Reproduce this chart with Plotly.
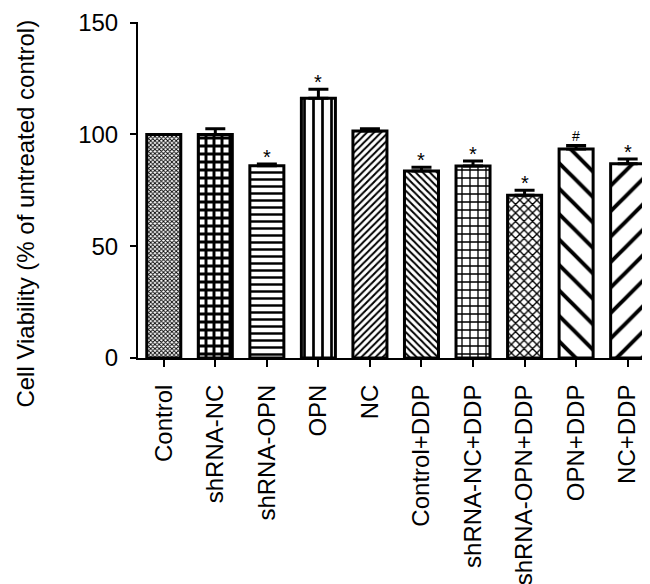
import plotly.graph_objects as go

groups = [
    "Control",
    "shRNA-NC",
    "shRNA-OPN",
    "OPN",
    "NC",
    "Control+DDP",
    "shRNA-NC+DDP",
    "shRNA-OPN+DDP",
    "OPN+DDP",
    "NC+DDP",
]
viability = [100, 100, 86, 116.2, 101.5, 83.7, 85.9, 72.8, 93.5, 86.9]
errors = [0, 2.5, 0.8, 4.0, 1.1, 1.6, 2.2, 2.2, 1.5, 2.1]
marks = ["", "", "*", "*", "", "*", "*", "*", "#", "*"]

# one hatch per bar, roughly like the Prism fills
patterns = [
    dict(shape="x", size=3, solidity=0.5),
    dict(shape="+", size=8, solidity=0.6),
    dict(shape="-", size=7, solidity=0.35),
    dict(shape="|", size=9, solidity=0.3),
    dict(shape="/", size=5, solidity=0.4),
    dict(shape="\\", size=5, solidity=0.4),
    dict(shape="+", size=8, solidity=0.3),
    dict(shape="x", size=6, solidity=0.4),
    dict(shape="\\", size=18, solidity=0.22),
    dict(shape="/", size=18, solidity=0.22),
]

FONT = "Liberation Sans, Arial, Helvetica, sans-serif"


def plot_viability() -> go.Figure:
    """Bar chart of cell viability with upper-only error bars."""
    fig = go.Figure()
    for i, name in enumerate(groups):
        fig.add_bar(
            x=[name],
            y=[viability[i]],
            width=0.66,
            marker_color="white",
            marker_line_color="black",
            marker_line_width=3,
            marker_pattern=dict(
                fgcolor="black", bgcolor="white", fgopacity=1, **patterns[i]
            ),
            error_y=dict(
                type="data",
                symmetric=False,
                array=[errors[i]],
                arrayminus=[0],
                color="black",
                thickness=3,
                width=10,
            ),
            showlegend=False,
        )
        if marks[i]:
            fig.add_annotation(
                x=name,
                y=viability[i] + errors[i],
                text=marks[i],
                showarrow=False,
                yanchor="bottom",
                yshift=-6 if marks[i] == "*" else 0,
                font=dict(size=20 if marks[i] == "*" else 14, color="black"),
            )

    fig.add_annotation(
        text="Cell Viability (% of untreated control)",
        xref="paper",
        yref="paper",
        x=-0.218,
        y=0.43,
        xanchor="center",
        yanchor="middle",
        textangle=-90,
        showarrow=False,
        font=dict(size=24, color="black"),
    )

    fig.update_layout(
        width=650,
        height=584,
        font=dict(family=FONT, size=24, color="black"),
        margin={"l": 130, "t": 14, "r": 2, "b": 234, "autoexpand": False},
        paper_bgcolor="white",
        plot_bgcolor="white",
    )
    fig.update_xaxes(
        range=[-0.5, 9.55],
        automargin=False,
        showline=True,
        linecolor="black",
        linewidth=2,
        ticks="outside",
        ticklen=7,
        tickwidth=2,
        tickcolor="black",
        tickangle=-90,
        tickfont=dict(family=FONT, size=24, color="black"),
        ticklabelstandoff=8,
        showgrid=False,
        zeroline=False,
    )
    fig.update_yaxes(
        range=[0, 150.3],
        automargin=False,
        tickvals=[0, 50, 100, 150],
        showline=True,
        linecolor="black",
        linewidth=2,
        ticks="outside",
        ticklen=6,
        tickwidth=2,
        tickcolor="black",
        tickfont=dict(family=FONT, size=24, color="black"),
        ticklabelstandoff=7,
        ticklabeloverflow="allow",
        showgrid=False,
        zeroline=False,
    )
    return fig


fig = plot_viability()
fig.write_html("out.html")
